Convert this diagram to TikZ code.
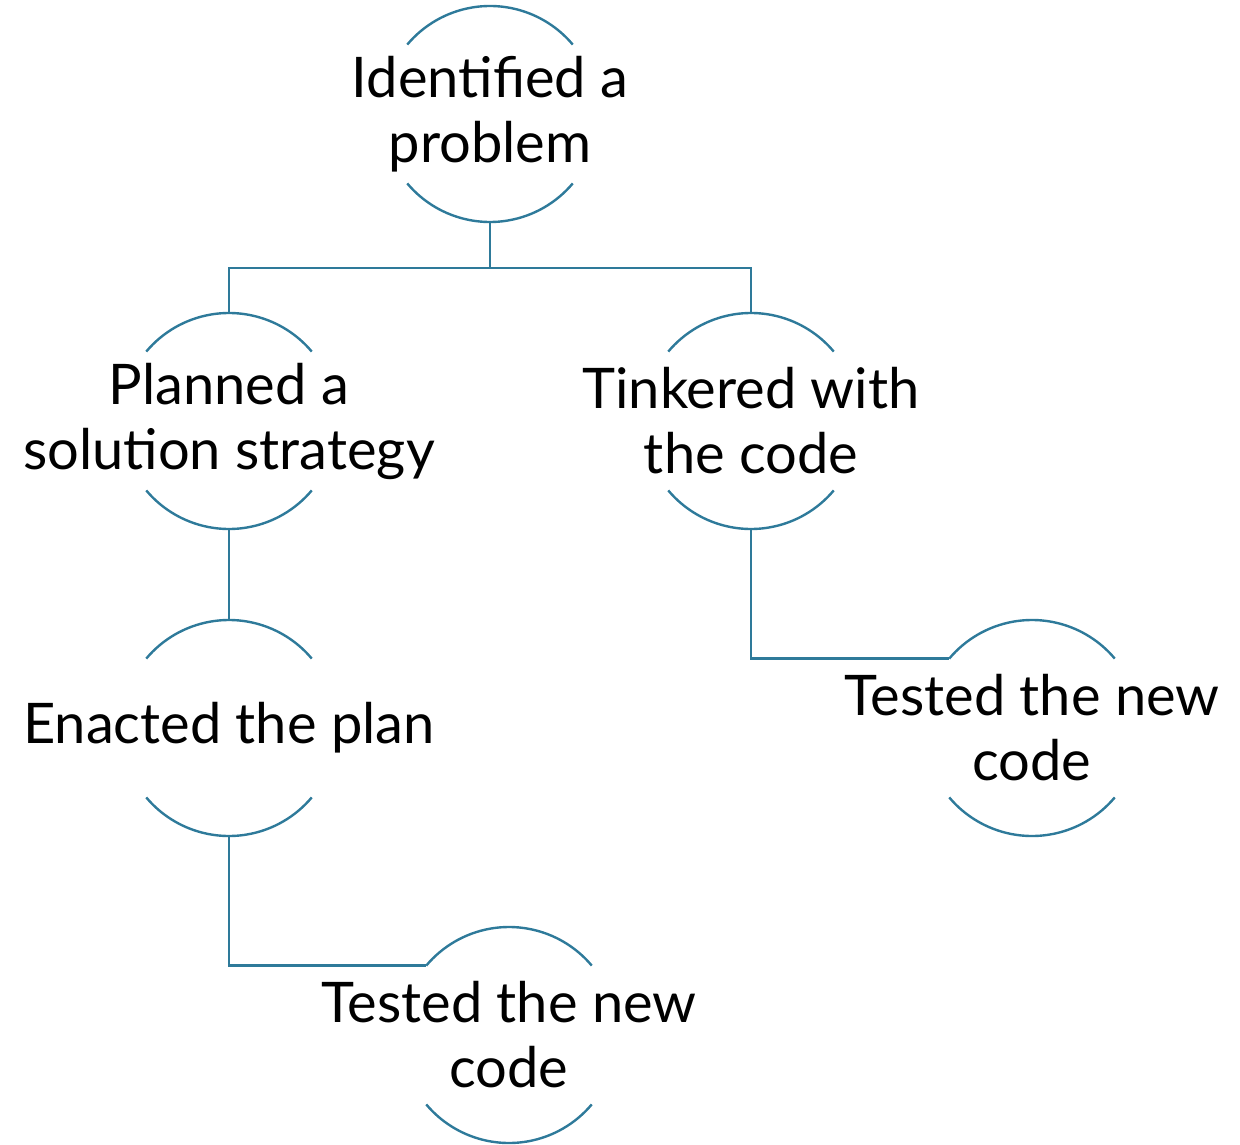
\documentclass[tikz,border=0pt]{standalone}
\usepackage{fontspec}
\setmainfont{Lato}
\usetikzlibrary{positioning}
\definecolor{arcteal}{HTML}{2E7A9A}
\tikzset{
  stage/.style={inner sep=0pt,align=center,font=\fontsize{28}{32.5}\selectfont},
  link/.style={arcteal,line width=1.2pt}
}

\begin{document}
\begin{tikzpicture}[x=0.5pt,y=0.5pt]
  \useasboundingbox (0,0) rectangle (1240,-1144);

  \node[stage] (ident)  at (490,-114)  {Identified a\\problem};
  \node[stage] (plan)   at (229,-421)  {Planned a\\solution strategy};
  \node[stage] (tinker) at (751,-421)  {Tinkered with\\the code};
  \node[stage] (enact)  at (229,-728)  {Enacted the plan};
  \node[stage] (testa)  at (1032,-728) {Tested the new\\code};
  \node[stage] (testb)  at (509,-1035) {Tested the new\\code};

  % open circles: only top and bottom arcs
  \foreach \n in {ident,plan,tinker,enact,testa,testb} {
    \draw[link] (\n.center) ++(40:54pt) arc[start angle=40,end angle=140,radius=54pt];
    \draw[link] (\n.center) ++(220:54pt) arc[start angle=220,end angle=320,radius=54pt];
    \coordinate (\n-top)  at ([yshift=54pt]\n.center);
    \coordinate (\n-bot)  at ([yshift=-54pt]\n.center);
    \coordinate (\n-left) at ([shift={(140:54pt)}]\n.center);
  }

  \draw[link] (ident-bot) -- ++(0,-46) coordinate (fork);
  \draw[link] (plan-top) |- (fork) -| (tinker-top);
  \draw[link] (plan-bot) -- (enact-top);
  \draw[link] (tinker-bot) |- (testa-left);
  \draw[link] (enact-bot) |- (testb-left);
\end{tikzpicture}
\end{document}
